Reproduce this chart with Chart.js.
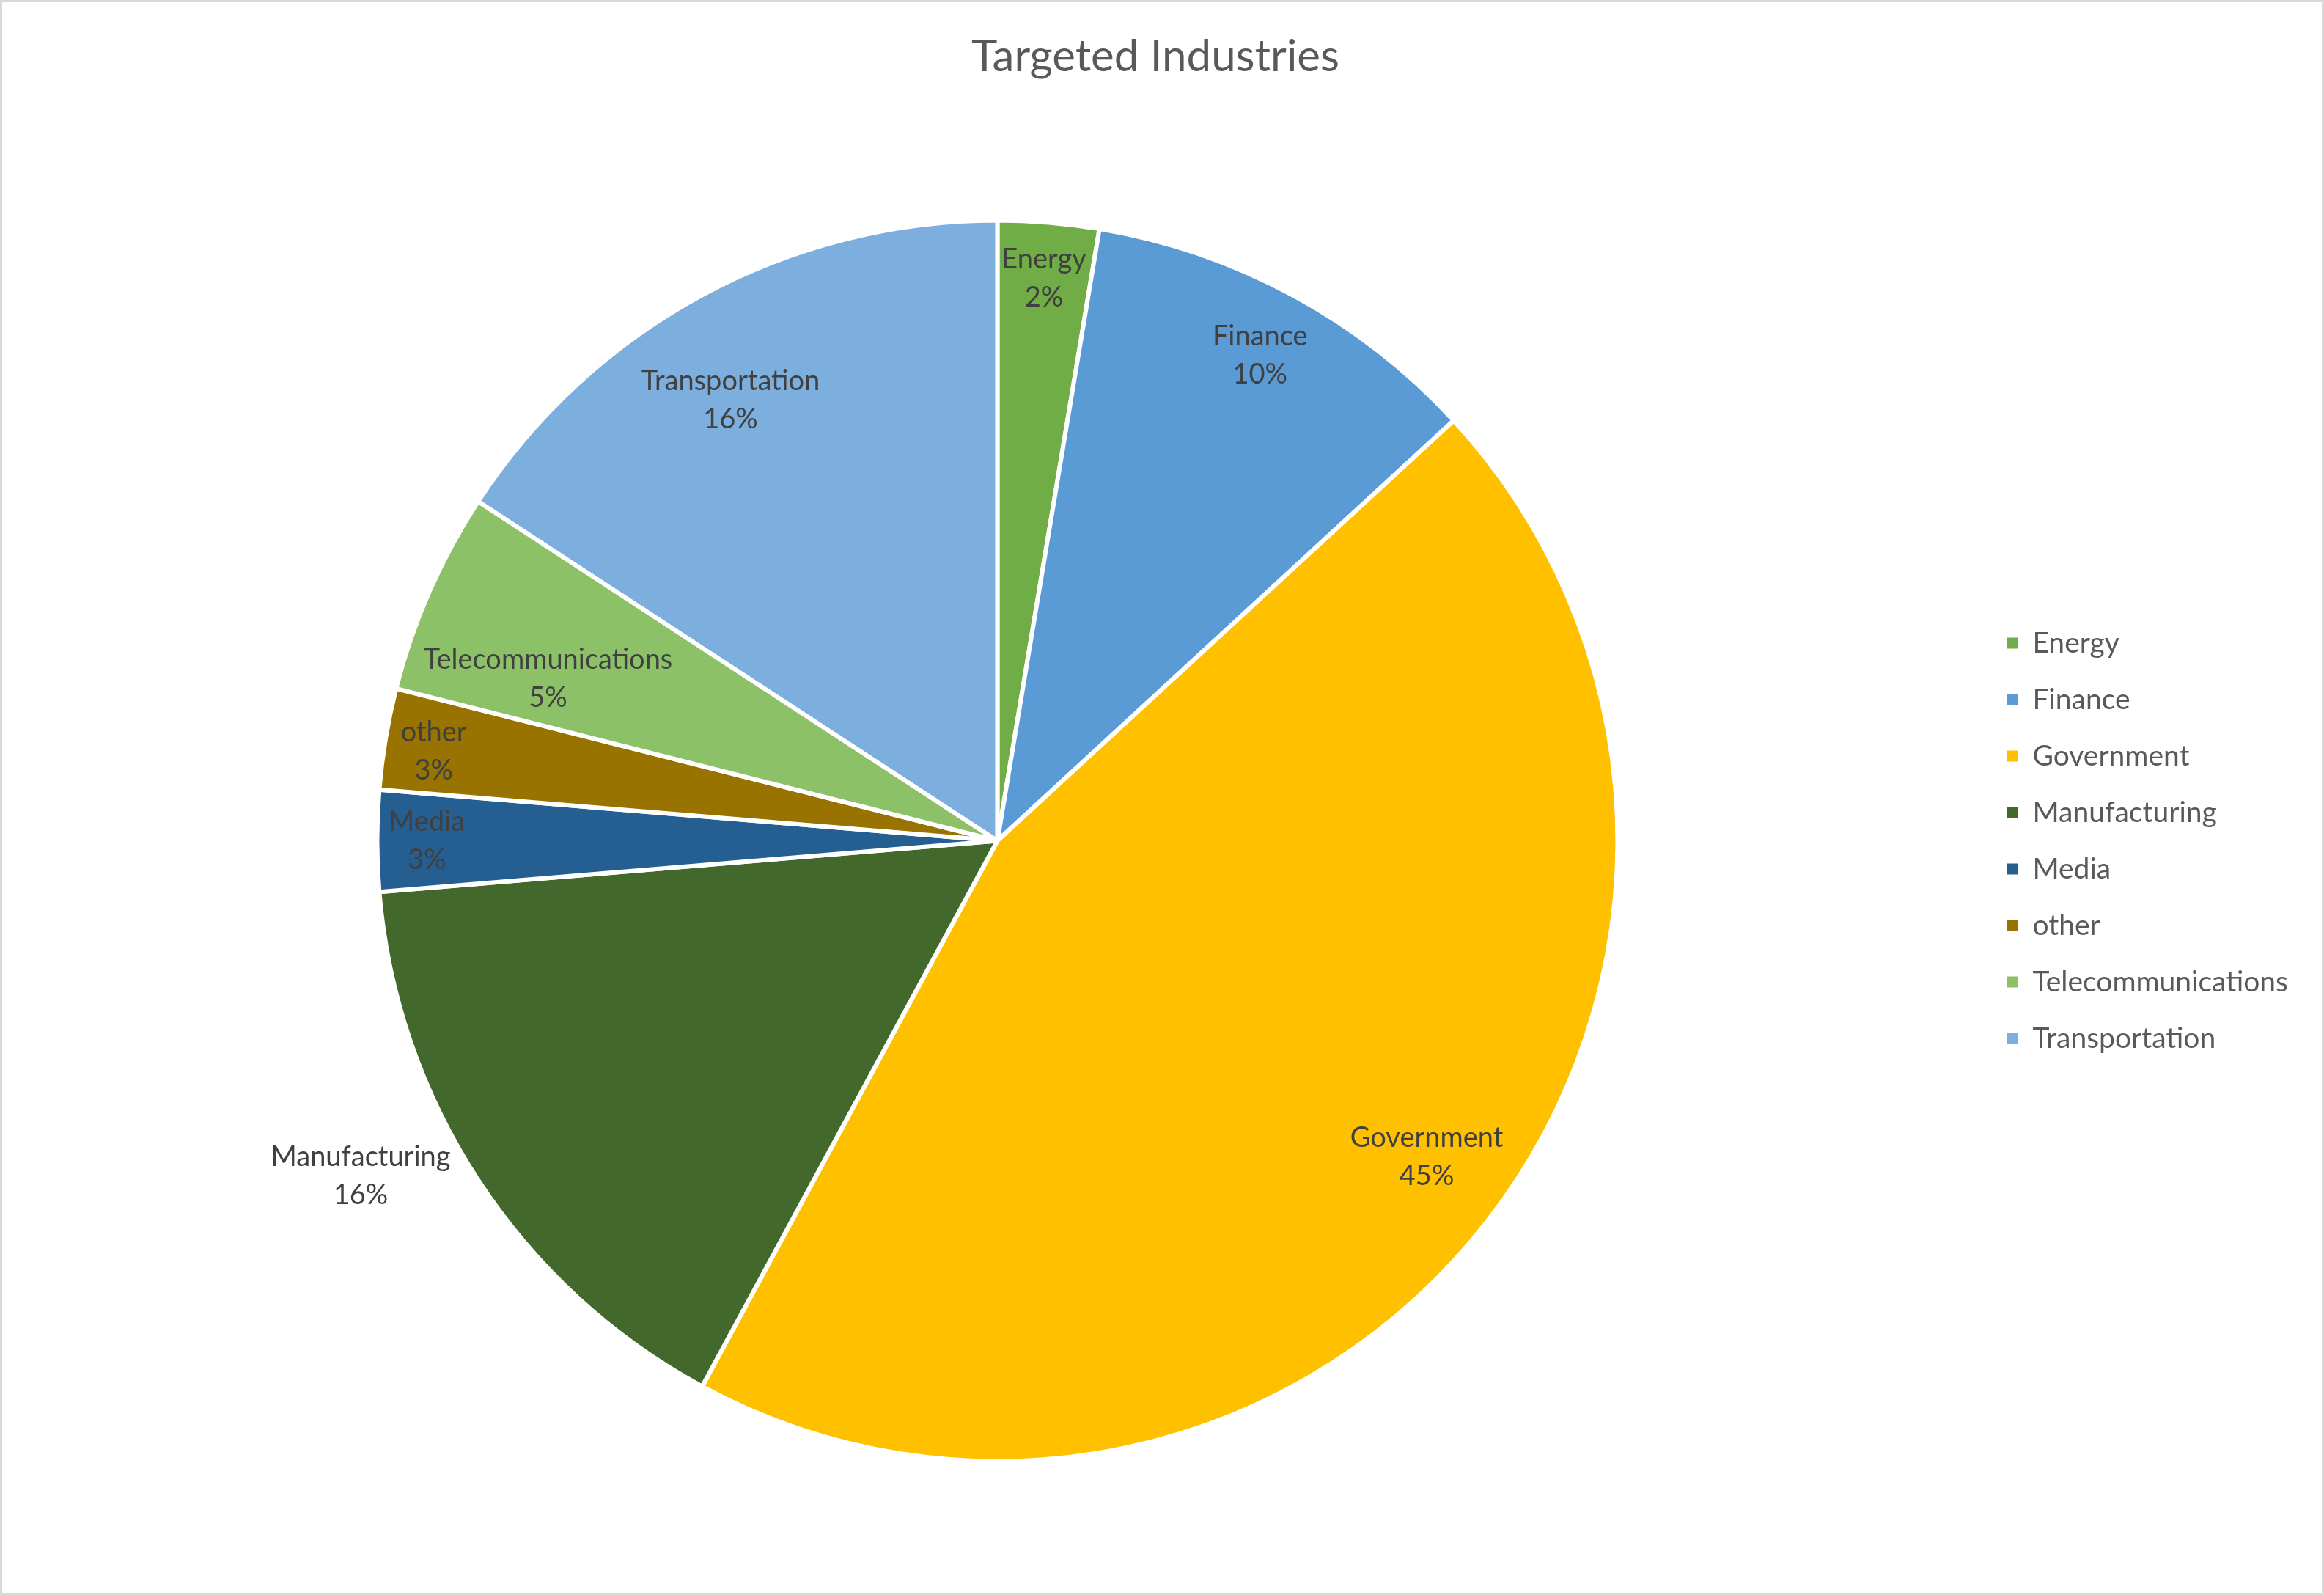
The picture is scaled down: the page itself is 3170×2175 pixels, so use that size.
<!DOCTYPE html>
<html>
<head>
<meta charset="utf-8">
<title>Targeted Industries</title>
<script src="https://cdn.jsdelivr.net/npm/chart.js@4.4.1/dist/chart.umd.min.js"></script>
<style>
    html, body { margin: 0; padding: 0; background: #ffffff; }
    #wrap { position: relative; width: 3170px; height: 2175px; }
    #frame {
        position: absolute; left: 0; top: 0;
        width: 3170px; height: 2175px;
        box-sizing: border-box;
        border: 3px solid #d9d9d9;
        pointer-events: none;
    }
</style>
</head>
<body>
<div id="wrap">
    <canvas id="chart" width="3170" height="2175"></canvas>
    <div id="frame"></div>
</div>

<script>
/* ============================================================
   DATA
============================================================ */

const industries = [
    "Energy", "Finance", "Government", "Manufacturing",
    "Media", "other", "Telecommunications", "Transportation"
];

const counts = [1, 4, 17, 6, 1, 1, 2, 6];

// percentages as printed on the slices
const pctLabels = ["2%", "10%", "45%", "16%", "3%", "3%", "5%", "16%"];


/* ============================================================
   STYLE
============================================================ */

const sliceColors = [
    "#70ad47", "#5b9bd5", "#ffc000", "#43682b",
    "#255e91", "#997300", "#8cc168", "#7cafdd"
];

// label placement: fraction of radius, and nudge along the arc (degrees)
const labelDist  = [0.91, 0.89, 0.86, 1.16, 0.92, 0.92, 0.77, 0.83];
const labelShift = [0, 0, -1.5, 5.4, 0, -0.5, -3.9, -2.8];

const FONT = "Lato, 'Open Sans', sans-serif";


/* ============================================================
   SLICE LABELS PLUGIN
============================================================ */

const sliceLabels = {
    id: "sliceLabels",
    afterDatasetsDraw(chart) {
        const ctx = chart.ctx;
        const meta = chart.getDatasetMeta(0);

        ctx.save();
        ctx.font = "38px " + FONT;
        ctx.fillStyle = "#404040";
        ctx.textAlign = "center";
        ctx.textBaseline = "middle";

        meta.data.forEach((arc, i) => {
            const p = arc.getProps(["x", "y", "startAngle", "endAngle", "outerRadius"], true);
            const mid = (p.startAngle + p.endAngle) / 2 + labelShift[i] * Math.PI / 180;
            const r = p.outerRadius * labelDist[i];
            const x = p.x + Math.cos(mid) * r;
            const y = p.y + Math.sin(mid) * r;

            ctx.fillText(industries[i], x, y - 26);
            ctx.fillText(pctLabels[i], x, y + 26);
        });

        ctx.restore();
    }
};


/* ============================================================
   CHART
============================================================ */

function legendLabels(chart) {
    const base = Chart.overrides.doughnut.plugins.legend.labels.generateLabels;
    return base(chart).map(l => Object.assign(l, { lineWidth: 0, strokeStyle: "transparent" }));
}

new Chart(document.getElementById("chart"), {
    type: "pie",
    data: {
        labels: industries,
        datasets: [{
            data: counts,
            backgroundColor: sliceColors,
            borderColor: "#ffffff",
            borderWidth: 6,
            radius: 846
        }]
    },
    options: {
        responsive: false,
        devicePixelRatio: 1,
        animation: false,
        layout: {
            padding: { left: 21, right: 39, top: 0, bottom: 96 }
        },
        plugins: {
            title: {
                display: true,
                text: "Targeted Industries",
                color: "#595959",
                font: { family: FONT, size: 60, weight: "normal", lineHeight: 1.2 },
                padding: { top: 42, bottom: 100 }
            },
            legend: {
                display: true,
                position: "right",
                fullSize: false,
                labels: {
                    color: "#595959",
                    font: { family: FONT, size: 39 },
                    boxWidth: 15,
                    boxHeight: 15,
                    padding: 38,
                    generateLabels: legendLabels
                }
            },
            tooltip: { enabled: false }
        }
    },
    plugins: [sliceLabels]
});
</script>
</body>
</html>
